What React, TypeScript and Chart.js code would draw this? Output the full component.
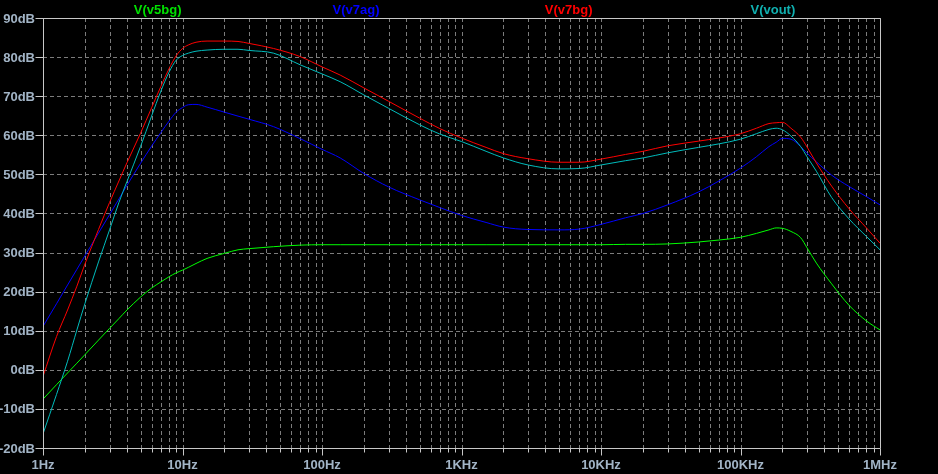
import React, { useEffect, useRef } from "react";
import { Chart, registerables } from "chart.js";

Chart.register(...registerables);

// ---- data ----
const freqs = [
  1, 1.25, 1.5, 1.75, 2, 2.5, 3, 3.5, 4, 5,
  6, 7, 8, 9, 10, 11, 12.5, 15, 20, 25,
  30, 45, 70, 100, 135, 200, 300, 500, 700, 1000,
  1500, 2000, 3000, 5000, 7000, 10000, 15000, 20000, 30000, 50000,
  70000, 100000, 130000, 160000, 180000, 200000, 230000, 270000, 300000, 350000,
  450000, 600000, 800000, 1000000,
];

const v5bg = [
  -7.5, -3.8, -0.8, 1.7, 3.9, 7.6, 10.6, 13.1, 15.3, 18.6,
  20.9, 22.5, 23.8, 24.8, 25.5, 26.2, 27.2, 28.5, 29.8, 30.7,
  31.0, 31.5, 31.9, 32.0, 32.0, 32.0, 32.0, 32.0, 32.0, 32.0,
  32.0, 32.0, 32.0, 32.0, 32.0, 32.0, 32.1, 32.1, 32.2, 32.7,
  33.2, 33.9, 34.9, 35.8, 36.3, 36.2, 35.4, 33.8, 31.2, 27.3,
  22.0, 16.5, 12.5, 10.2,
];

const v7ag = [
  11.1, 16.9, 21.7, 25.7, 29.2, 35.0, 39.7, 43.7, 47.2, 52.8,
  57.2, 60.7, 63.6, 65.9, 67.1, 67.8, 67.9, 67.2, 65.9, 64.9,
  64.1, 62.2, 59.1, 56.4, 54.2, 50.2, 46.8, 43.5, 41.5, 39.5,
  37.7, 36.5, 35.9, 35.8, 36.0, 37.2, 38.9, 40.0, 42.2, 45.5,
  48.3, 51.6, 54.5, 57.1, 58.2, 59.2, 59.0, 57.1, 55.4, 53.2,
  49.8, 46.9, 44.3, 42.2,
];

const v7bg = [
  -1.7, 8.5, 15.3, 21.4, 27.1, 35.9, 42.8, 48.3, 53.0, 60.5,
  67.0, 72.5, 77.0, 80.3, 82.2, 83.1, 83.8, 84.1, 84.1, 84.0,
  83.5, 82.2, 80.1, 77.5, 75.4, 72.1, 68.7, 64.4, 61.7, 59.3,
  56.9, 55.3, 54.0, 53.1, 53.1, 53.9, 55.1, 55.9, 57.3, 58.5,
  59.3, 60.4, 61.8, 63.0, 63.2, 63.3, 61.8, 59.5, 57.0, 52.9,
  47.0, 41.2, 36.3, 32.4,
];

const vout = [
  -16.4, -6.3, 2.2, 10.2, 17.0, 27.6, 35.8, 42.8, 48.2, 57.1,
  64.9, 71.3, 76.1, 79.2, 80.4, 81.0, 81.5, 81.8, 82.0, 82.0,
  81.7, 81.0, 78.0, 75.7, 73.7, 70.3, 66.9, 62.7, 60.3, 58.4,
  55.9, 54.2, 52.4, 51.4, 51.5, 52.4, 53.5, 54.2, 55.5, 56.9,
  57.8, 59.0, 60.4, 61.5, 61.8, 61.4, 59.8, 57.1, 54.5, 50.8,
  44.1, 38.6, 34.1, 30.7,
];

const seriesNames = ["V(v5bg)", "V(v7ag)", "V(v7bg)", "V(vout)"];

const xTickValues = [1, 10, 100, 1000, 10000, 100000, 1000000];
const xTickLabels = ["1Hz", "10Hz", "100Hz", "1KHz", "10KHz", "100KHz", "1MHz"];
const yTickValues = [-20, -10, 0, 10, 20, 30, 40, 50, 60, 70, 80, 90];
const yTickLabels = ["-20dB", "-10dB", "0dB", "10dB", "20dB", "30dB", "40dB", "50dB", "60dB", "70dB", "80dB", "90dB"];

// ---- styles ----
const BG = "#000000";
const GRID = "#7c7c7c";
const FRAME = "#c8c8c8";
const LABEL = "#a2b4c6";
const FONT = 'bold 13px "Liberation Sans", Arial, sans-serif';
const lineColors = ["#00ff00", "#0000ff", "#ff0000", "#00bcbc"];
const textColors = ["#00e000", "#0000ff", "#ff0000", "#10b0b0"];
const legendFrac = [0.137, 0.374, 0.628, 0.872];

const ltPlugin = {
  id: "ltspiceLook",
  beforeDraw(chart: any) {
    const { ctx, width, height } = chart;
    ctx.save();
    ctx.fillStyle = BG;
    ctx.fillRect(0, 0, width, height);
    ctx.restore();
  },
  beforeDatasetsDraw(chart: any) {
    const { ctx, chartArea: a, scales } = chart;
    const xs = scales.x;
    const ys = scales.y;
    ctx.save();
    ctx.strokeStyle = GRID;
    ctx.lineWidth = 1;
    ctx.setLineDash([4, 3]);
    for (let d = 0; d < xTickValues.length; d++) {
      const base = xTickValues[d];
      const mults = d === xTickValues.length - 1 ? [1] : [1, 2, 3, 4, 5, 6, 7, 8, 9];
      for (const m of mults) {
        const px = Math.round(xs.getPixelForValue(base * m)) + 0.5;
        ctx.beginPath();
        ctx.moveTo(px, a.top);
        ctx.lineTo(px, a.bottom);
        ctx.stroke();
      }
    }
    for (const v of yTickValues) {
      const py = Math.round(ys.getPixelForValue(v)) + 0.5;
      ctx.beginPath();
      ctx.moveTo(a.left, py);
      ctx.lineTo(a.right, py);
      ctx.stroke();
    }
    ctx.restore();
  },
  afterDatasetsDraw(chart: any) {
    const { ctx, chartArea: a, scales } = chart;
    const xs = scales.x;
    const ys = scales.y;
    ctx.save();
    ctx.setLineDash([]);
    ctx.strokeStyle = FRAME;
    ctx.lineWidth = 1;
    const L = Math.round(a.left) + 0.5;
    const R = Math.round(a.right) + 0.5;
    const T = Math.round(a.top) + 0.5;
    const B = Math.round(a.bottom) + 0.5;
    ctx.beginPath();
    ctx.moveTo(L, T);
    ctx.lineTo(R, T);
    ctx.lineTo(R, B);
    ctx.lineTo(L, B);
    ctx.closePath();
    ctx.stroke();

    // x ticks
    for (let d = 0; d < xTickValues.length; d++) {
      const base = xTickValues[d];
      const mults = d === xTickValues.length - 1 ? [1] : [1, 2, 3, 4, 5, 6, 7, 8, 9];
      for (const m of mults) {
        const px = Math.round(xs.getPixelForValue(base * m)) + 0.5;
        const len = m === 1 ? 7 : 4;
        ctx.beginPath();
        ctx.moveTo(px, B);
        ctx.lineTo(px, B + len);
        ctx.stroke();
      }
    }
    // y ticks
    for (const v of yTickValues) {
      const py = Math.round(ys.getPixelForValue(v)) + 0.5;
      ctx.beginPath();
      ctx.moveTo(L - 8, py);
      ctx.lineTo(L, py);
      ctx.stroke();
    }

    ctx.font = FONT;
    ctx.fillStyle = LABEL;
    ctx.textAlign = "right";
    ctx.textBaseline = "middle";
    yTickValues.forEach((v, i) => {
      ctx.fillText(yTickLabels[i], a.left - 8, ys.getPixelForValue(v) + 1);
    });
    ctx.textAlign = "center";
    xTickValues.forEach((v, i) => {
      ctx.fillText(xTickLabels[i], xs.getPixelForValue(v), a.bottom + 17);
    });

    // legend titles
    ctx.textBaseline = "alphabetic";
    seriesNames.forEach((n, i) => {
      ctx.fillStyle = textColors[i];
      ctx.fillText(n, a.left + legendFrac[i] * (a.right - a.left), 14);
    });
    ctx.restore();
  },
};

export default function App() {
  const canvasRef = useRef<HTMLCanvasElement | null>(null);

  useEffect(() => {
    const canvas = canvasRef.current;
    if (!canvas) return;
    const all = [v5bg, v7ag, v7bg, vout];
    const chart = new Chart(canvas, {
      type: "line",
      data: {
        datasets: all.map((vals, i) => ({
          label: seriesNames[i],
          data: freqs.map((f, j) => ({ x: f, y: vals[j] })),
          borderColor: lineColors[i],
          backgroundColor: lineColors[i],
          borderWidth: 1,
          pointRadius: 0,
          cubicInterpolationMode: "monotone" as const,
          fill: false,
          order: 4 - i,
        })),
      },
      options: {
        animation: false,
        responsive: false,
        maintainAspectRatio: false,
        devicePixelRatio: 1,
        layout: { padding: { left: 43, right: 58, top: 18, bottom: 26 } },
        plugins: {
          legend: { display: false },
          tooltip: { enabled: false },
        },
        scales: {
          x: {
            type: "logarithmic",
            min: 1,
            max: 1000000,
            display: false,
          },
          y: {
            type: "linear",
            min: -20,
            max: 90,
            display: false,
          },
        },
      },
      plugins: [ltPlugin],
    });
    return () => chart.destroy();
  }, []);

  return (
    <div style={{ position: "fixed", left: 0, top: 0, width: 938, height: 474, background: BG }}>
      <canvas ref={canvasRef} width={938} height={474} style={{ display: "block", width: 938, height: 474 }} />
    </div>
  );
}
